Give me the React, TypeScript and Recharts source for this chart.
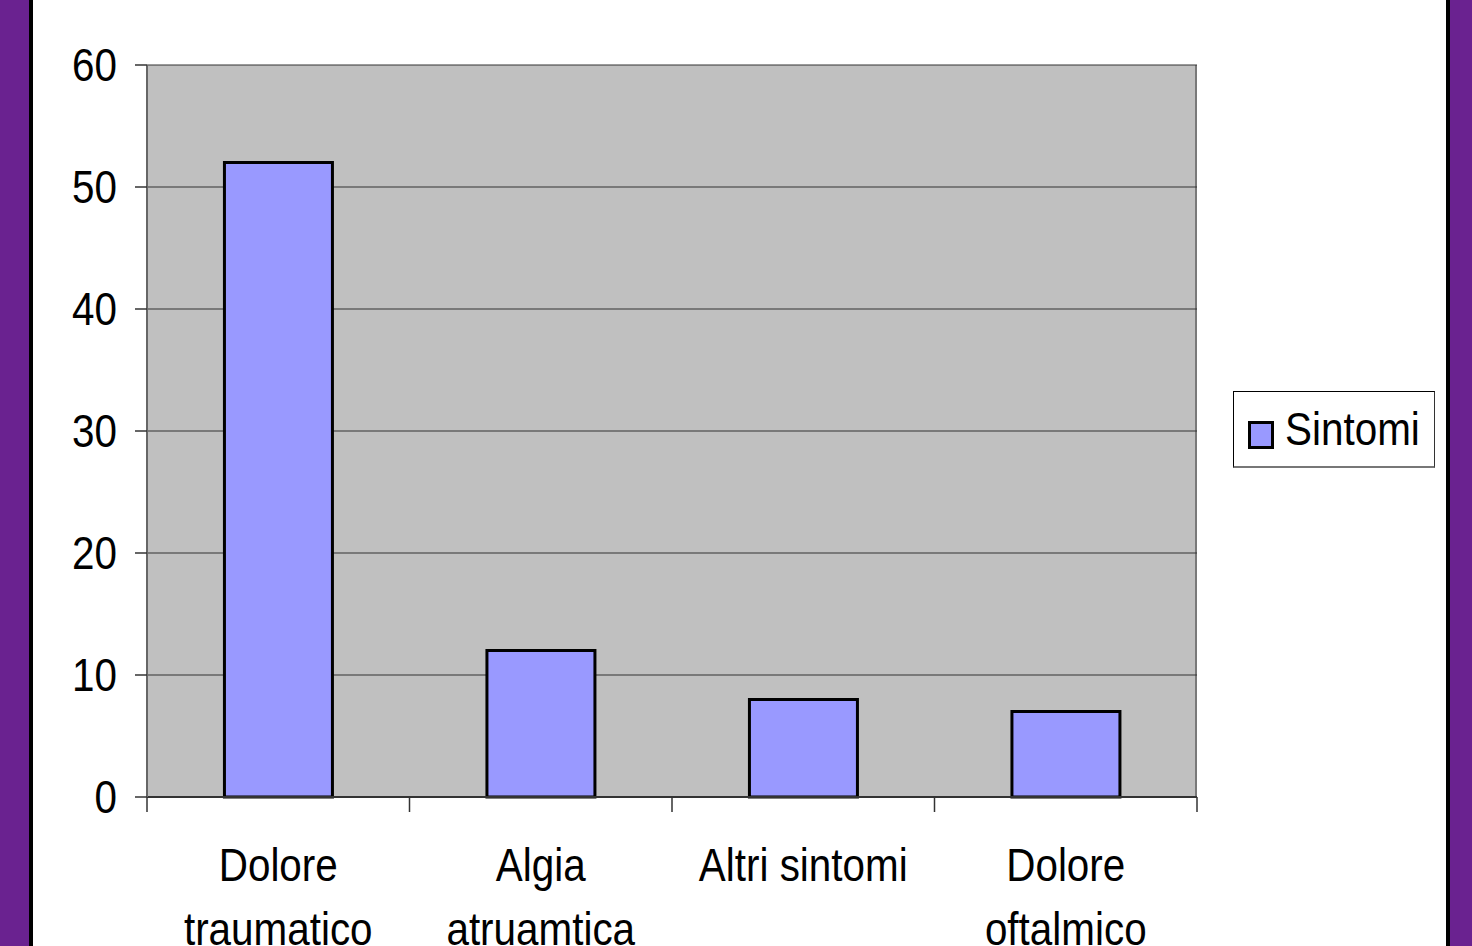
import React from "react";
import { BarChart, Bar, XAxis, YAxis, CartesianGrid, Legend } from "recharts";

const categories = ["Dolore\ntraumatico", "Algia\natruamtica", "Altri sintomi", "Dolore\noftalmico"];
const sintomiValues = [52, 12, 8, 7];
const yTicks = [0, 10, 20, 30, 40, 50, 60];
const seriesName = "Sintomi";

const data = categories.map((c, i) => ({ name: c, Sintomi: sintomiValues[i] }));

const W = 1472;
const H = 946;
const FONT = "'Liberation Sans', Arial, sans-serif";
const SX = 0.86;

const YTick = (props: any) => {
  const { x, y, payload } = props;
  return (
    <g transform={`translate(${x},${y + 16}) scale(${SX},1)`}>
      <text x={0} y={0} textAnchor="end" fontFamily={FONT} fontSize={47} fill="#000">
        {payload.value}
      </text>
    </g>
  );
};

const XTick = (props: any) => {
  const { x, y, payload, index } = props;
  const half = payload && payload.offset ? payload.offset : 131.25;
  const lines = String(payload.value).split("\n");
  const axisY = y - 17;
  return (
    <g>
      <line x1={x - half} x2={x - half} y1={axisY} y2={axisY + 15} stroke="#333" strokeWidth={1.5} />
      {index === categories.length - 1 && (
        <line x1={x + half} x2={x + half} y1={axisY} y2={axisY + 15} stroke="#333" strokeWidth={1.5} />
      )}
      <g transform={`translate(${x},${y + 67}) scale(${SX},1)`}>
        {lines.map((l, i) => (
          <text key={i} x={0} y={i * 64} textAnchor="middle" fontFamily={FONT} fontSize={47} fill="#000">
            {l}
          </text>
        ))}
      </g>
    </g>
  );
};

const LegendContent = () => (
  <div
    style={{
      width: 202,
      height: 77,
      border: "1px solid #000",
      borderRightColor: "#333",
      borderBottom: "2px solid #777",
      background: "#fff",
      boxSizing: "border-box",
      position: "relative",
    }}
  >
    <div
      style={{
        position: "absolute",
        left: 14,
        top: 29,
        width: 20,
        height: 22,
        background: "#9999ff",
        border: "3px solid #000",
      }}
    />
    <div
      style={{
        position: "absolute",
        left: 51,
        top: 7,
        fontFamily: FONT,
        fontSize: 47,
        lineHeight: "60px",
        color: "#000",
        transform: `scale(${SX},1)`,
        transformOrigin: "0 0",
        whiteSpace: "nowrap",
      }}
    >
      {seriesName}
    </div>
  </div>
);

export default function App() {
  return (
    <div
      style={{
        position: "fixed",
        left: 0,
        top: 0,
        width: W,
        height: H,
        overflow: "hidden",
        background: "#fff",
      }}
    >
      <div style={{ position: "absolute", left: 0, top: 0, width: 29, height: H, background: "#6a2290" }} />
      <div style={{ position: "absolute", left: 29, top: 0, width: 4, height: H, background: "#000" }} />
      <div style={{ position: "absolute", left: 1446, top: 0, width: 4, height: H, background: "#000" }} />
      <div style={{ position: "absolute", left: 1450, top: 0, width: 22, height: H, background: "#6a2290" }} />
      <div style={{ position: "absolute", left: 0, top: 0 }}>
        <BarChart
          width={W}
          height={H}
          data={data}
          margin={{ top: 65, right: 73, bottom: 0, left: 0 }}
          barCategoryGap="29.5%"
        >
          <CartesianGrid
            fill="#c0c0c0"
            stroke="#333"
            strokeWidth={1}
            vertical={true}
            verticalCoordinatesGenerator={(p: any) => [p.offset.left + p.offset.width - 1]}
          />
          <XAxis
            dataKey="name"
            interval={0}
            height={149}
            tickLine={false}
            tickSize={15}
            tickMargin={2}
            axisLine={{ stroke: "#333", strokeWidth: 2 }}
            tick={<XTick />}
          />
          <YAxis
            width={147}
            domain={[0, 60]}
            ticks={yTicks}
            interval={0}
            tickSize={12}
            tickMargin={18}
            axisLine={{ stroke: "#666", strokeWidth: 2 }}
            tickLine={{ stroke: "#333", strokeWidth: 1.5 }}
            tick={<YTick />}
          />
          <Legend
            layout="horizontal"
            verticalAlign="middle"
            align="right"
            content={<LegendContent />}
            wrapperStyle={{ left: 1233, top: 391, right: "auto", bottom: "auto", width: 202, height: 77 }}
          />
          <Bar dataKey="Sintomi" name={seriesName} fill="#9999ff" stroke="#000" strokeWidth={3} isAnimationActive={false} />
        </BarChart>
      </div>
    </div>
  );
}
